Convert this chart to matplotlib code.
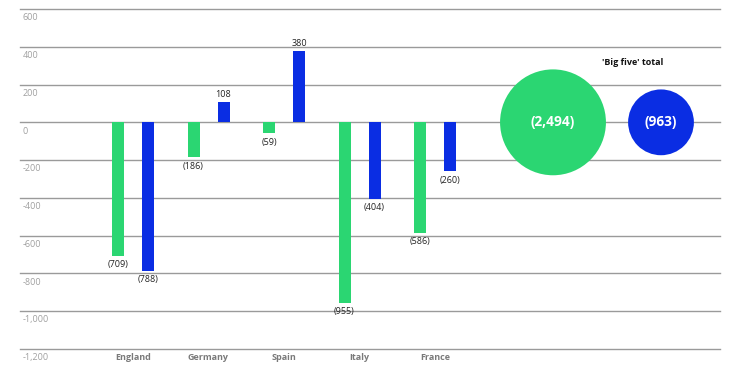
import matplotlib
matplotlib.use("Agg")
import matplotlib.pyplot as plt
import numpy as np

plt.rcParams['font.family'] = ['Open Sans', 'DejaVu Sans']

categories = ["England", "Germany", "Spain", "Italy", "France"]
series_green = [-709, -186, -59, -955, -586]
series_blue = [-788, 108, 380, -404, -260]
totals = [-2494, -963]
total_title = "'Big five' total"
yticks = [600, 400, 200, 0, -200, -400, -600, -800, -1000, -1200]

GREEN = "#2bd672"
BLUE = "#0a2de3"

def fmt(v):
    return f"({abs(v):,})" if v < 0 else f"{v:,}"

fig = plt.figure(figsize=(7.5, 3.68), dpi=100)
W, H = 750, 368
ax = fig.add_axes([20 / W, (H - 349) / H, 700 / W, 340 / H])
ax.set_ylim(-1200, 600)
ax.set_xlim((20 - 133) / 75.5, (720 - 133) / 75.5)

for y in yticks:
    ax.axhline(y, color="#9a9a9a", lw=1.0, zorder=0, clip_on=False)
    ax.annotate(f"{y:,}", xy=(0, y), xycoords=("axes fraction", "data"),
                xytext=(2, -3), textcoords="offset points", ha="left", va="top",
                fontsize=6.5, color="#a0a0a0")

x = np.arange(len(categories))
bw = 12 / 75.5
off = 15 / 75.5
ax.bar(x - off, series_green, width=bw, color=GREEN, zorder=2)
ax.bar(x + off, series_blue, width=bw, color=BLUE, zorder=2)

for xi, v in zip(x - off, series_green):
    ax.annotate(fmt(v), xy=(xi, v), xytext=(0, -3 if v < 0 else 2), textcoords="offset points",
                ha="center", va="top" if v < 0 else "bottom", fontsize=6.5, color="#222222")
for xi, v in zip(x + off, series_blue):
    ax.annotate(fmt(v), xy=(xi, v), xytext=(0, -3 if v < 0 else 2), textcoords="offset points",
                ha="center", va="top" if v < 0 else "bottom", fontsize=6.5, color="#222222")

for xi, c in zip(x, categories):
    ax.annotate(c, xy=(xi, -1200), xytext=(0, -3), textcoords="offset points",
                ha="center", va="top", fontsize=6.5, color="#7a7a7a", fontweight="bold")

# Big five bubbles
cx = [(553 - 133) / 75.5, (661 - 133) / 75.5]
k = 2.33
sizes = [k * abs(t) for t in totals]
ax.scatter(cx, [0, 0], s=sizes, c=[GREEN, BLUE], zorder=3, linewidths=0)
for xi, t in zip(cx, totals):
    ax.text(xi, 0, fmt(t), ha="center", va="center", color="white",
            fontsize=9.8, fontweight="bold", zorder=4)
ax.text((633 - 133) / 75.5, 318, total_title, ha="center", va="center",
        fontsize=6.5, fontweight="bold", color="#111111")

ax.axis("off")
fig.savefig("out.png", dpi=100)
